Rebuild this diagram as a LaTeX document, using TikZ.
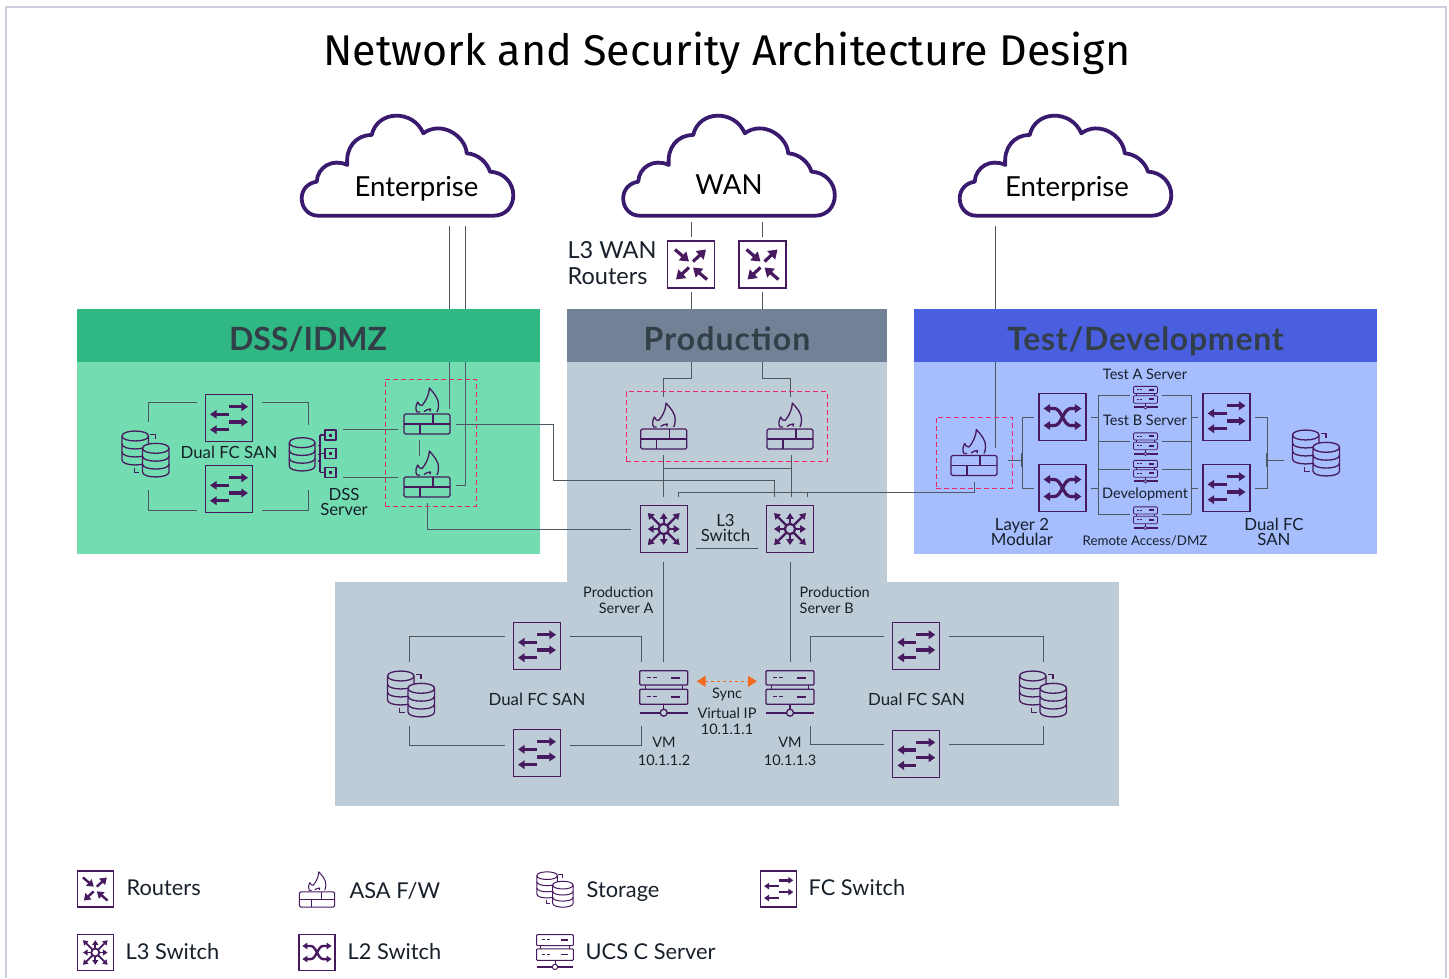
\documentclass[tikz,border=0pt]{standalone}
\usepackage{fontspec}
\setmainfont{Lato}
\newfontfamily\titlefont{Fira Sans}
\usetikzlibrary{arrows.meta}

\definecolor{iconpurple}{HTML}{47195F}
\definecolor{cloudpurple}{HTML}{3A1A6E}
\definecolor{wiregray}{HTML}{4C5862}
\definecolor{framepink}{HTML}{E8296E}
\definecolor{syncorange}{HTML}{F26B21}
\definecolor{labelink}{HTML}{17202A}
\definecolor{headink}{HTML}{333F48}
\definecolor{dsshead}{HTML}{2FB884}
\definecolor{dssbody}{HTML}{73DDB1}
\definecolor{prodhead}{HTML}{728196}
\definecolor{prodbody}{HTML}{BDCCD6}
\definecolor{testhead}{HTML}{4A5FDF}
\definecolor{testbody}{HTML}{A6BDFE}
\definecolor{pageline}{HTML}{CDD0DC}

\newcommand\cylpart[4]{%
	\draw[glyph,cylfill] (#1-#2,#3) -- (#1-#2,#3+#4) .. controls (#1-#2,#3+#4+6.6) and (#1+#2,#3+#4+6.6) .. (#1+#2,#3+#4) -- (#1+#2,#3) .. controls (#1+#2,#3-6.6) and (#1-#2,#3-6.6) .. cycle;
	\foreach \b in {0,1,2}
		\draw[glyph] (#1-#2,#3+\b*#4/3) .. controls (#1-#2,#3+\b*#4/3+6.6) and (#1+#2,#3+\b*#4/3+6.6) .. (#1+#2,#3+\b*#4/3);
}

\tikzset{
	wire/.style={draw=wiregray,line width=1pt},
	glyph/.style={draw=iconpurple,line join=round},
	thickglyph/.style={draw=iconpurple,line width=3.2pt},
	burstglyph/.style={draw=iconpurple,line width=2.3pt},
	cylfill/.style={fill=white},
	rtip/.tip={Triangle[length=0pt 2.7,width=0pt 3.5]},
	ftip/.tip={Triangle[length=0pt 2.1,width=0pt 2.7]},
	btip/.tip={Triangle[length=0pt 2.6,width=0pt 3.2]},
	iconbox/.style={rectangle,draw=iconpurple,minimum size=47pt,inner sep=0pt,outer sep=9pt},
	iconspot/.style={rectangle,minimum width=46pt,minimum height=46pt,inner sep=0pt,outer sep=6pt},
	storespot/.style={iconspot,outer sep=9pt},
	smallspot/.style={rectangle,minimum width=24pt,minimum height=23pt,inner sep=0pt,outer sep=4pt},
	legendbox/.style={rectangle,draw=iconpurple,minimum size=36pt,inner sep=0pt},
	legendspot/.style={rectangle,minimum size=36pt,inner sep=0pt},
	legendpic/.style={scale=.77,line width=1pt,thickglyph/.style={draw=iconpurple,line width=2.4pt},burstglyph/.style={draw=iconpurple,line width=1.8pt}},
	smallpic/.style={scale=.5,line width=.8pt},
	fwframe/.style={rectangle,draw=framepink,dash pattern=on 5pt off 3pt,line width=1.2pt,inner sep=0pt},
	lbl/.style={inner sep=0pt,text=labelink,align=center},
	lblS/.style={lbl,font=\fontsize{14.5}{16}\selectfont},
	lblM/.style={lbl,font=\fontsize{16.8}{15.5}\selectfont},
	lblL/.style={lbl,anchor=base west,font=\fontsize{21.8}{24}\selectfont},
	lblC/.style={lbl,anchor=base,text=black,font=\fontsize{27.6}{30}\selectfont},
	headlbl/.style={anchor=base,inner sep=0pt,text=headink,font=\fontsize{32}{36}\selectfont\bfseries},
	routerglyph/.pic={
		\draw[thickglyph,-rtip] (-16,-15) -- (-2,-3);
		\draw[thickglyph,-rtip] (2,-3) -- (15,-15);
		\draw[thickglyph,-rtip] (-2,3) -- (-15,15);
		\draw[thickglyph,-rtip] (16,15) -- (2,3);
	},
	fcglyph/.pic={
		\draw[thickglyph,-ftip] (0,-11.3) -- (19,-11.3);
		\draw[thickglyph,-ftip] (0,-3.7) -- (-19,-3.7);
		\draw[thickglyph,-ftip] (0,4) -- (19,4);
		\draw[thickglyph,-ftip] (0,11.7) -- (-19,11.7);
	},
	ltwoglyph/.pic={
		\draw[thickglyph,ftip-ftip] (-19,-8.5) -- (-8,-8.5) .. controls (-1,-8.5) and (1,8.5) .. (8,8.5) -- (19,8.5);
		\draw[thickglyph,ftip-ftip] (-19,8.5) -- (-8,8.5) .. controls (-1,8.5) and (1,-8.5) .. (8,-8.5) -- (19,-8.5);
	},
	lthreeglyph/.pic={
		\draw[burstglyph] (0,0) circle[radius=5.2];
		\foreach \a/\b/\c/\d in {5/0/16/0,-5/0/-16/0,0/5/0/16,0/-5/0/-16,3.7/3.7/16/16,-3.7/3.7/-16/16,3.7/-3.7/16/-16,-3.7/-3.7/-16/-16}
			\draw[burstglyph,-btip] (\a,\b) -- (\c,\d);
	},
	fwglyph/.pic={
		\draw[glyph,rounded corners=1.5pt] (-23,3) rectangle (23,23);
		\draw[glyph] (-23,13) -- (23,13);
		\draw[glyph] (6,3) -- (6,13);
		\draw[glyph] (-7,13) -- (-7,23);
		\draw[glyph] (-7,1) -- (-10,1) .. controls (-12,-2) and (-11,-6) .. (-9.3,-9) .. controls (-8.5,-6) and (-6.5,-5.5) .. (-5,-5.5) .. controls (-2,-9) and (2,-15) .. (2.3,-23) .. controls (7,-18) and (12,-12) .. (11.5,-6) .. controls (11.5,-3) and (11,-1) .. (10,1);
		\draw[glyph] (-3,0.5) .. controls (-1,-1) and (1,-2) .. (3.5,-2) -- (3,0.5);
	},
	storeglyph/.pic={
		\cylpart{-10.25}{13.25}{-18}{24}
		\cylpart{10.25}{13.25}{-5.7}{23.7}
		\draw[glyph] (4.5,-19.7) -- (10,-19.7) -- (10,-14.7);
		\draw[glyph] (-11.2,13.7) -- (-11.2,18.3) -- (-6.2,18.3);
	},
	dssglyph/.pic={
		\cylpart{-10.85}{12.85}{-10.8}{23.3}
		\draw[glyph] (7,-18.5) -- (7,18);
		\foreach \y in {-18.5,0,19} {
			\draw[glyph] (7,\y) -- (12,\y);
			\draw[glyph] (12,\y-5) rectangle (23,\y+5);
			\fill[iconpurple] (16,\y-1.5) rectangle (19,\y+1.5);
		}
		\foreach \y in {-8,1,7.5}
			\draw[glyph] (5,\y) -- (7,\y);
	},
	serverglyph/.pic={
		\draw[glyph,rounded corners=1pt] (-24,-23.3) rectangle (24,-9);
		\draw[glyph,rounded corners=1pt] (-24,-4.7) rectangle (24,10.3);
		\draw[glyph] (-18.5,-9) -- (-18.5,-4.7);
		\draw[glyph] (18.5,-9) -- (18.5,-4.7);
		\foreach \y in {-16.3,2.7} {
			\draw[glyph] (-17,\y) -- (-13,\y);
			\draw[glyph] (-11,\y) -- (-7,\y);
			\draw[glyph,line width=1.8pt] (7.3,\y) -- (16.3,\y);
		}
		\draw[glyph] (0,10.3) -- (0,15.2);
		\draw[glyph] (0,18.7) circle[radius=3.5];
		\draw[glyph,line width=1.8pt] (-24,18.7) -- (-3.5,18.7);
		\draw[glyph,line width=1.8pt] (3.5,18.7) -- (24,18.7);
	},
	cloudglyph/.pic={
		\draw[draw=cloudpurple,line width=3.8pt,line join=round,fill=white] (-89.2,49.7) -- (85.8,49.7) .. controls (98,49.7) and (105.8,41) .. (105.8,29) .. controls (105.8,17) and (96,6) .. (82.5,5.7) .. controls (80,-3) and (71,-12) .. (59.2,-12.7) .. controls (58,-30) and (34,-46) .. (15.8,-32.7) .. controls (6,-56.5) and (-30,-56.5) .. (-35.8,-31) .. controls (-52,-31) and (-62,-18) .. (-60.2,-1) .. controls (-75,-8) and (-90,1) .. (-90.8,15.7) .. controls (-100,17) and (-105.8,24) .. (-105.8,32.3) .. controls (-105.8,42) and (-99,49.7) .. cycle;
	}
}

\begin{document}
\begin{tikzpicture}[x=1pt,y=-1pt,line width=1.3pt]
	\useasboundingbox (0,0) rectangle (1449,978);
	\draw[pageline,line width=2pt] (6,978) -- (6,7.3) -- (1446,7.3) -- (1446,978);

	\node[inner sep=0pt,text=black,font=\fontsize{43}{48}\selectfont\titlefont] (title) at (727,53) {Network and Security Architecture Design};

	\fill[dssbody] (77,362) rectangle (540,554);
	\fill[prodbody] (567,362) rectangle (887,582);
	\fill[prodbody] (335,582) rectangle (1119,806);
	\fill[testbody] (914,362) rectangle (1377,554);

	\pic at (407.5,166) {cloudglyph};
	\pic at (729,166) {cloudglyph};
	\pic at (1065.5,166) {cloudglyph};
	\node[lblC] (entL) at (416.5,196) {Enterprise};
	\node[lblC] (wan) at (729,194.5) {WAN};
	\node[lblC] (entR) at (1067,196) {Enterprise};

	\node[iconbox,outer sep=4pt] (rtrA) at (691,264.5) {};
	\node[iconbox,outer sep=4pt] (rtrB) at (762.5,264.5) {};
	\node[iconspot] (fwPa) at (663.7,426) {};
	\node[iconspot] (fwPb) at (790,426) {};
	\node[iconbox] (l3a) at (663.7,529) {};
	\node[iconbox] (l3b) at (790,529) {};
	\node[iconspot] (fwDa) at (427,411) {};
	\node[iconspot] (fwDb) at (427,474) {};
	\node[iconbox] (sanDa) at (229,418) {};
	\node[iconbox] (sanDb) at (229,489) {};
	\node[storespot] (stDa) at (145.5,454) {};
	\node[iconspot,minimum width=48pt] (stDb) at (313,453.5) {};
	\node[iconspot] (fwT) at (974,452.5) {};
	\node[iconbox,outer sep=5pt] (l2a) at (1062.5,417) {};
	\node[iconbox,outer sep=5pt] (l2b) at (1062.5,488) {};
	\node[iconbox,outer sep=5pt] (fcTa) at (1226.5,417) {};
	\node[iconbox,outer sep=5pt] (fcTb) at (1226.5,488) {};
	\node[storespot] (stT) at (1316,453) {};
	\node[smallspot] (srvTa) at (1145.5,398) {};
	\node[smallspot] (srvTb) at (1145.5,444.5) {};
	\node[smallspot] (srvTc) at (1145.5,472) {};
	\node[smallspot] (srvTd) at (1145.5,518.5) {};
	\node[storespot,minimum width=48pt] (srvA) at (663.7,694) {};
	\node[storespot,minimum width=48pt] (srvB) at (790,694) {};
	\node[iconbox] (sanPa) at (537,646) {};
	\node[iconbox] (sanPb) at (537,753) {};
	\node[iconbox] (sanPc) at (916.3,646) {};
	\node[iconbox] (sanPd) at (916.3,753.7) {};
	\node[storespot] (stPa) at (411,694) {};
	\node[storespot] (stPb) at (1043,694) {};

	\coordinate (wanA) at (691,222);
	\coordinate (wanB) at (762.5,222);
	\coordinate (bendA) at (691,378.5);
	\coordinate (bendB) at (762.5,378.5);
	\coordinate (bendC) at (553,480);
	\coordinate (busT) at (678.3,492.3);
	\coordinate (jPa) at (663.7,468.3);
	\coordinate (fwPbS) at ([xshift=1.3pt]fwPb.south);
	\coordinate (entLa) at (449,226);
	\coordinate (entLb) at (465.7,226);
	\coordinate (entRa) at (995.3,226);
	\coordinate (brL) at (1022.3,460);
	\coordinate (brR) at (1267.3,460);
	\coordinate (busLt) at (1098.3,395);
	\coordinate (busLb) at (1098.3,514.3);
	\coordinate (busRt) at (1191.3,395);
	\coordinate (busRb) at (1191.3,514.3);
	\coordinate (srvDa) at ([yshift=24.2pt]stDb.east);
	\coordinate (srvDb) at ([yshift=-23.8pt]stDb.east);

	\draw[wire] (wanA) -- (rtrA.north);
	\draw[wire] (wanB) -- (rtrB.north);
	\draw[wire] (rtrA.south) -- (bendA) -| (fwPa.north);
	\draw[wire] (rtrB.south) -- (bendB) -| (fwPb.north);
	\draw[wire] (fwPa.south) -- (l3a.north);
	\draw[wire] (fwPbS) -- ([xshift=1.3pt]l3b.north);
	\draw[wire] (jPa) -- (jPa -| fwPbS);
	\draw[wire] ([yshift=-13pt]fwDa.east) -| (bendC) -| ([xshift=-16pt]l3b.north);
	\draw[wire] (fwDb.south) |- (l3a.west);
	\draw[wire] (fwT.south) |- (busT) -- (busT |- l3a.north);
	\draw[wire] ([xshift=17pt]l3b.north) |- (busT);
	\draw[wire] ([yshift=-19.7pt]l3a.east) -- ([yshift=-19.7pt]l3b.west);
	\draw[wire] (entLa) -- ([yshift=2pt]entLa |- fwDa.center);
	\draw[wire] (entLb) |- ([yshift=-11pt]fwDb.east);
	\draw[wire] (entRa) -- ([yshift=5pt]entRa |- fwT.center);
	\draw[wire] ([xshift=-7.7pt]fwDa.south) -- ([xshift=-7.7pt,yshift=-10.7pt]fwDb.north);

	\draw[wire] ([yshift=16pt]sanDa.west) -| ([xshift=3pt]stDa.north);
	\draw[wire] ([yshift=-21.5pt]sanDb.west) -| ([xshift=3pt,yshift=-4pt]stDa.south);
	\draw[wire] ([yshift=16pt]sanDa.east) -| ([xshift=-4.3pt]stDb.north);
	\draw[wire] ([yshift=-21.5pt]sanDb.east) -| ([xshift=-4.3pt,yshift=-7pt]stDb.south);
	\draw[wire] (srvDa) -- (srvDa -| fwDa.west);
	\draw[wire] (srvDb) -- (srvDb -| fwDb.west);

	\draw[wire] ([xshift=5pt,yshift=-7.5pt]fwT.east) -- (brL);
	\draw[wire] (l2a.west) -| (brL) |- (l2b.west);
	\draw[wire,line width=2.2pt] ([yshift=7pt]brL) -- ([yshift=-7pt]brL);
	\draw[wire] (busLt) -- (busLb);
	\draw[wire] (busRt) -- (busRb);
	\draw[wire] (l2a.east) -- (l2a.east -| busLt);
	\draw[wire] (l2b.east) -- (l2b.east -| busLt);
	\draw[wire] (fcTa.west) -- (fcTa.west -| busRt);
	\draw[wire] (fcTb.west) -- (fcTb.west -| busRt);
	\draw[wire] (fcTa.east) -| (brR) |- (fcTb.east);
	\draw[wire,line width=2.2pt] ([yshift=7pt]brR) -- ([yshift=-7pt]brR);
	\draw[wire] (brR) -- (brR -| stT.west);
	\foreach \n/\d in {a/3,b/2.8,c/2.7,d/4.2} {
		\coordinate (tapL) at ([yshift=\d pt]srvT\n.west);
		\coordinate (tapR) at ([yshift=\d pt]srvT\n.east);
		\draw[wire] (tapL) -- (tapL -| busLt);
		\draw[wire] (tapR) -- (tapR -| busRt);
	}

	\draw[wire] (l3a.south) -- (srvA.north);
	\draw[wire] (l3b.south) -- (srvB.north);
	\draw[wire] ([yshift=10pt]sanPa.west) -| ([xshift=-2pt]stPa.north);
	\draw[wire] ([yshift=8pt]sanPb.west) -| ([xshift=-2pt]stPa.south);
	\draw[wire] ([yshift=10pt]sanPa.east) -| ([xshift=-22pt]srvA.north);
	\draw[wire] ([yshift=8pt]sanPb.east) -| ([xshift=-22pt]srvA.south);
	\draw[wire] ([yshift=10pt]sanPc.west) -| ([xshift=20pt]srvB.north);
	\draw[wire] ([yshift=9pt]sanPd.west) -| ([xshift=20pt]srvB.south);
	\draw[wire] ([yshift=10pt]sanPc.east) -| (stPb.north);
	\draw[wire] ([yshift=9pt]sanPd.east) -| (stPb.south);
	\draw[draw=syncorange,line width=1pt,dashed,{Triangle[length=9pt,width=11pt]}-{Triangle[length=9pt,width=11pt]}] ([yshift=12.7pt]srvA.east) -- ([yshift=12.7pt]srvB.west);

	\fill[dsshead] (77,309) rectangle (540,362);
	\fill[prodhead] (567,309) rectangle (887,362);
	\fill[testhead] (914,309) rectangle (1377,362);
	\node[headlbl] (hDss) at (308,350) {DSS/IDMZ};
	\node[headlbl,font=\fontsize{32}{36}\selectfont\bfseries\addfontfeature{LetterSpace=3.4}] (hProd) at (727,350) {Production};
	\node[headlbl,font=\fontsize{32}{36}\selectfont\bfseries\addfontfeature{LetterSpace=2.2}] (hTest) at (1145.5,350) {Test/Development};

	\node[fwframe,minimum width=91pt,minimum height=127pt] (frameD) at (430.6,442.6) {};
	\node[fwframe,minimum width=201pt,minimum height=70pt] (frameP) at (726.8,426.8) {};
	\node[fwframe,minimum width=76pt,minimum height=71pt] (frameT) at (974.2,452.8) {};

	\pic at (rtrA) {routerglyph};
	\pic at (rtrB) {routerglyph};
	\pic at (fwPa) {fwglyph};
	\pic at (fwPb) {fwglyph};
	\pic at (fwDa) {fwglyph};
	\pic at (fwDb) {fwglyph};
	\pic at (fwT) {fwglyph};
	\pic at (l3a) {lthreeglyph};
	\pic at (l3b) {lthreeglyph};
	\pic at (l2a) {ltwoglyph};
	\pic at (l2b) {ltwoglyph};
	\foreach \n in {sanDa,sanDb,fcTa,fcTb,sanPa,sanPb,sanPc,sanPd}
		\pic at (\n) {fcglyph};
	\pic[cylfill/.style={fill=dssbody}] at (stDa) {storeglyph};
	\pic[cylfill/.style={fill=dssbody}] at (stDb) {dssglyph};
	\pic[cylfill/.style={fill=testbody}] at (stT) {storeglyph};
	\pic[cylfill/.style={fill=prodbody}] at (stPa) {storeglyph};
	\pic[cylfill/.style={fill=prodbody}] at (stPb) {storeglyph};
	\pic at (srvA) {serverglyph};
	\pic at (srvB) {serverglyph};
	\foreach \n in {a,b,c,d}
		\pic[smallpic] at (srvT\n) {serverglyph};

	\node[lbl,anchor=west,align=left,font=\fontsize{23.5}{26}\selectfont] (lblRtr) at (567,263.5) {L3 WAN\\Routers};
	\node[lblM] (lblSanD) at (229,452.5) {Dual FC SAN};
	\node[lblM] (lblDss) at (344,502) {DSS\\Server};
	\node[lblM] (lblL3) at (725.5,528) {L3\\Switch};
	\node[lblS] (lblTa) at (1145,374.5) {Test A Server};
	\node[lblS] (lblTb) at (1145,420.5) {Test B Server};
	\node[lblS] (lblTc) at (1145,494.5) {Development};
	\node[lblS,font=\fontsize{13.3}{16}\selectfont] (lblTd) at (1145,540.5) {Remote Access/DMZ};
	\node[lblM] (lblL2) at (1022,532) {Layer 2\\Modular};
	\node[lblM] (lblFc) at (1274,532) {Dual FC\\SAN};
	\node[lblS,anchor=east,align=right] (lblPa) at (654,600) {Production\\Server A};
	\node[lblS,anchor=west,align=left] (lblPb) at (799,600) {Production\\Server B};
	\node[lblM] (lblSanA) at (537,699.5) {Dual FC SAN};
	\node[lblM] (lblSanB) at (916.5,699.5) {Dual FC SAN};
	\node[lblS] (lblSync) at (727,694.5) {Sync};
	\node[lblS] (lblVip) at (727,721) {Virtual IP\\10.1.1.1};
	\node[lblS,font=\fontsize{14.5}{18}\selectfont] (lblVa) at (664,751) {VM\\10.1.1.2};
	\node[lblS,font=\fontsize{14.5}{18}\selectfont] (lblVb) at (790,751) {VM\\10.1.1.3};

	\node[legendbox] (legRtr) at (95.3,889) {};
	\node[legendbox] (legL3) at (95.3,952.5) {};
	\node[legendspot] (legFw) at (317,889.5) {};
	\node[legendbox] (legL2) at (317,952.5) {};
	\node[legendspot] (legSt) at (555,889.5) {};
	\node[legendspot] (legSrv) at (555,952.5) {};
	\node[legendbox] (legFc) at (778.7,889) {};
	\pic[legendpic] at (legRtr) {routerglyph};
	\pic[legendpic] at (legL3) {lthreeglyph};
	\pic[legendpic] at (legFw) {fwglyph};
	\pic[legendpic] at (legL2) {ltwoglyph};
	\pic[legendpic] at (legSt) {storeglyph};
	\pic[legendpic] at (legSrv) {serverglyph};
	\pic[legendpic] at (legFc) {fcglyph};
	\node[lblL] (txtRtr) at (126,895) {Routers};
	\node[lblL] (txtL3) at (125,959) {L3 Switch};
	\node[lblL] (txtFw) at (349,898) {ASA F/W};
	\node[lblL] (txtL2) at (347,959) {L2 Switch};
	\node[lblL] (txtSt) at (586,897.3) {Storage};
	\node[lblL] (txtSrv) at (585,959) {UCS C Server};
	\node[lblL] (txtFc) at (808,895) {FC Switch};
\end{tikzpicture}
\end{document}
